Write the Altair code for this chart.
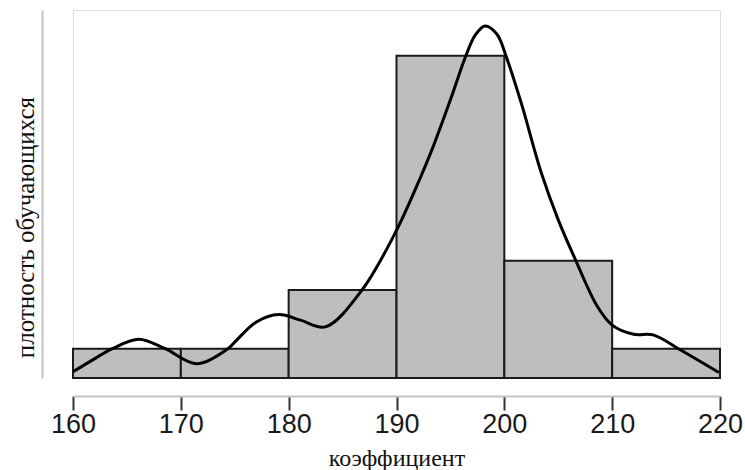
import altair as alt
import pandas as pd

# Histogram: bin edges (width 10) and counts per bin
bin_start = [160, 170, 180, 190, 200, 210]
bin_end = [170, 180, 190, 200, 210, 220]
counts = [1, 1, 3, 11, 4, 1]
n_total = sum(counts)
bin_width = 10

# Kernel density estimate of the same sample
kde_x = [160.0, 161.6, 163.7, 166.1, 168.5, 171.5, 174.4, 175.2, 177.0, 179.1,
         181.1, 183.4, 186.8, 190.0, 192.2, 193.4, 195.0, 196.4, 197.3,
         198.2, 199.3, 200.2, 201.6, 203.4, 205.0, 206.6, 208.6, 210.0, 212.0,
         213.8, 216.3, 219.9]
kde_y = [0.0010, 0.0027, 0.0048, 0.0063, 0.0048, 0.0023, 0.0048, 0.0062, 0.0091, 0.0103,
         0.0094, 0.0083, 0.0143, 0.0240, 0.0325, 0.0376, 0.0452, 0.0522, 0.0557,
         0.0572, 0.0559, 0.0521, 0.0445, 0.0335, 0.0257, 0.0192, 0.0117, 0.0086, 0.0071,
         0.0070, 0.0046, 0.0009]

hist = pd.DataFrame({
    "start": bin_start,
    "end": bin_end,
    "density": [c / (n_total * bin_width) for c in counts],
})
kde = pd.DataFrame({"x": kde_x, "y": kde_y})

x_scale = alt.Scale(domain=[160, 220], nice=False, zero=False)
y_scale = alt.Scale(domain=[0, 0.0598], nice=False)

x_axis = alt.Axis(
    values=[160, 170, 180, 190, 200, 210, 220],
    title="коэффициент",
    offset=18,
    grid=False,
    domainColor="#c4c4c4",
    domainWidth=2,
    tickColor="#333333",
    tickWidth=2,
    tickSize=14,
    labelFlush=False,
    labelFont="Liberation Sans",
    labelFontSize=27,
    labelColor="#1a1a1a",
    labelPadding=1,
    titleFont="Liberation Serif",
    titleFontSize=24,
    titleFontWeight="normal",
    titleColor="#111111",
    titleBaseline="alphabetic",
    titleY=69,
)

y_axis = alt.Axis(
    title="плотность обучающихся",
    offset=31,
    grid=False,
    ticks=False,
    labels=False,
    domainColor="#c4c4c4",
    domainWidth=2,
    titleFont="Liberation Serif",
    titleFontSize=25,
    titleFontWeight="normal",
    titleColor="#111111",
    titleAngle=270,
    titleAlign="center",
    titleBaseline="alphabetic",
    titleX=-9,
    titleY=217,
)

bars = alt.Chart(hist).mark_rect(
    fill="#bebebe", stroke="#1a1a1a", strokeWidth=2
).encode(
    x=alt.X("start:Q", scale=x_scale, axis=x_axis),
    x2="end:Q",
    y=alt.Y("density:Q", scale=y_scale, axis=y_axis),
    y2=alt.datum(0),
)

curve = alt.Chart(kde).mark_line(
    color="black", strokeWidth=3, interpolate="catmull-rom"
).encode(
    x=alt.X("x:Q", scale=x_scale),
    y=alt.Y("y:Q", scale=y_scale),
)

chart = alt.layer(bars, curve).properties(
    width=647,
    height=368,
    autosize=alt.AutoSizeParams(type="none"),
    padding={"left": 73, "top": 10, "right": 25, "bottom": 92},
).configure_view(stroke=None).configure(background="white")

chart.save("out.html", embed_options={"renderer": "svg", "actions": False})
